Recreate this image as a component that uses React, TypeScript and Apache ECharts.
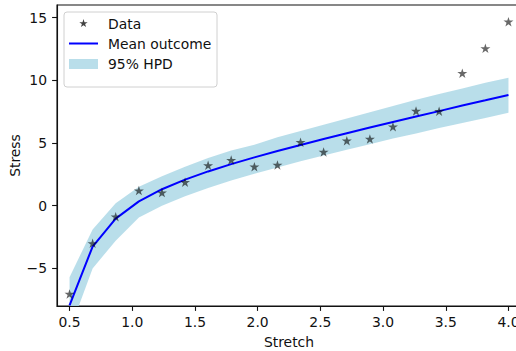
import React, { useEffect, useRef } from "react";
import * as echarts from "echarts";

const stretch = [0.5, 0.684, 0.868, 1.053, 1.237, 1.421, 1.605, 1.789, 1.974, 2.158, 2.342, 2.526, 2.711, 2.895, 3.079, 3.263, 3.447, 3.632, 3.816, 4.0];
const observedStress = [-7.04, -3.0, -0.88, 1.2, 1.04, 1.87, 3.22, 3.64, 3.11, 3.25, 5.06, 4.28, 5.18, 5.32, 6.3, 7.55, 7.53, 10.56, 12.55, 14.67];
const meanOutcome = [-7.95, -3.26, -1.03, 0.34, 1.31, 2.08, 2.73, 3.31, 3.85, 4.36, 4.84, 5.31, 5.78, 6.23, 6.67, 7.11, 7.54, 7.98, 8.4, 8.83];
const hpdUpper = [-5.7, -1.9, 0.2, 1.5, 2.35, 3.1, 3.8, 4.4, 4.85, 5.45, 5.95, 6.45, 6.95, 7.45, 7.95, 8.45, 8.9, 9.35, 9.8, 10.2];
const hpdLower = [-10.0, -5.0, -2.8, -0.95, 0.0, 0.75, 1.4, 2.0, 2.55, 3.05, 3.55, 4.0, 4.45, 4.9, 5.35, 5.75, 6.2, 6.6, 7.0, 7.4];
const xTicks = [0.5, 1.0, 1.5, 2.0, 2.5, 3.0, 3.5, 4.0];
const yTicks = [-5, 0, 5, 10, 15];

const FONT = "DejaVu Sans";
const FS = 13.9;
const BAND = "#add8e6";
const STAR = "path://M0,-10L2.245,-3.09L9.51,-3.09L3.633,1.18L5.88,8.09L0,3.82L-5.88,8.09L-3.633,1.18L-9.51,-3.09L-2.245,-3.09Z";

function starPoints(cx: number, cy: number, r: number) {
  const pts: number[][] = [];
  for (let i = 0; i < 10; i++) {
    const rr = i % 2 === 0 ? r : r * 0.382;
    const a = -Math.PI / 2 + (i * Math.PI) / 5;
    pts.push([cx + rr * Math.cos(a), cy + rr * Math.sin(a)]);
  }
  return pts;
}

export default function App() {
  const ref = useRef<HTMLDivElement>(null);
  useEffect(() => {
    if (!ref.current) return;
    const chart = echarts.init(ref.current, null, { renderer: "svg" });
    const axisText = { fontFamily: FONT, fontSize: FS, color: "#111" };
    chart.setOption({
      animation: false,
      backgroundColor: "#fff",
      grid: {
        left: 57,
        right: -5,
        top: 5,
        bottom: 45,
        containLabel: false,
        outerBoundsMode: "none",
        show: true,
        borderColor: "#111",
        borderWidth: 1.1,
      },
      xAxis: {
        type: "value",
        min: 0.4,
        max: 4.1,
        name: "Stretch",
        nameLocation: "middle",
        nameGap: 29,
        nameMoveOverlap: false,
        nameTextStyle: axisText,
        axisLine: { show: true, onZero: false, lineStyle: { color: "#111", width: 1.1 } },
        axisTick: { show: true, customValues: xTicks, length: 4.9, lineStyle: { color: "#111", width: 1.1 } },
        axisLabel: { customValues: xTicks, margin: 9, formatter: (v: number) => v.toFixed(1), ...axisText },
        splitLine: { show: false },
      },
      yAxis: {
        type: "value",
        min: -8,
        max: 16,
        name: "Stress",
        nameLocation: "middle",
        nameGap: 35,
        nameMoveOverlap: false,
        nameTextStyle: axisText,
        axisLine: { show: true, onZero: false, lineStyle: { color: "#111", width: 1.1 } },
        axisTick: { show: true, customValues: yTicks, length: 4.9, lineStyle: { color: "#111", width: 1.1 } },
        axisLabel: { customValues: yTicks, margin: 10, formatter: (v: number) => String(v).replace("-", "\u2212"), ...axisText },
        splitLine: { show: false },
      },
      series: [
        {
          type: "custom",
          name: "95% HPD",
          z: 1,
          data: stretch.map((x, i) => [x, hpdLower[i], hpdUpper[i]]),
          encode: { x: 0, y: [1, 2] },
          renderItem: (params: any, api: any) => {
            if (params.dataIndex !== 0) return null;
            const cs = params.coordSys;
            const pts: number[][] = [];
            for (let i = 0; i < stretch.length; i++) pts.push(api.coord([stretch[i], hpdUpper[i]]));
            for (let i = stretch.length - 1; i >= 0; i--) pts.push(api.coord([stretch[i], hpdLower[i]]));
            return {
              type: "group",
              clipPath: { type: "rect", shape: { x: cs.x, y: cs.y, width: cs.width, height: cs.height } },
              children: [
                {
                  type: "polygon",
                  shape: { points: pts },
                  style: { fill: BAND, opacity: 0.85 },
                },
              ],
            };
          },
        },
        {
          type: "line",
          name: "Mean outcome",
          z: 2,
          data: stretch.map((x, i) => [x, meanOutcome[i]]),
          showSymbol: false,
          symbol: "none",
          lineStyle: { color: "#0000ff", width: 2 },
          clip: true,
        },
        {
          type: "scatter",
          name: "Data",
          z: 3,
          data: stretch.map((x, i) => [x, observedStress[i]]),
          symbol: STAR,
          symbolSize: [10, 9.5],
          itemStyle: { color: "rgba(0,0,0,0.74)" },
        },
      ],
      graphic: [
        {
          type: "group",
          z: 100,
          children: [
            { type: "rect", shape: { x: 64, y: 12, width: 153, height: 75, r: 3 }, style: { fill: "rgba(255,255,255,0.85)", stroke: "#d0d0d0", lineWidth: 1 } },
            { type: "polygon", shape: { points: starPoints(83.5, 23.5, 4.4) }, style: { fill: "rgba(0,0,0,0.74)" } },
            { type: "line", shape: { x1: 69, y1: 43.5, x2: 98, y2: 43.5 }, style: { stroke: "#0000ff", lineWidth: 2 } },
            { type: "rect", shape: { x: 69, y: 59, width: 29, height: 10 }, style: { fill: BAND, opacity: 0.85 } },
            { type: "text", x: 108, y: 23.5, style: { text: "Data", fontFamily: FONT, fontSize: FS, fill: "#111", verticalAlign: "middle" } },
            { type: "text", x: 108, y: 43.5, style: { text: "Mean outcome", fontFamily: FONT, fontSize: FS, fill: "#111", verticalAlign: "middle" } },
            { type: "text", x: 108, y: 64, style: { text: "95% HPD", fontFamily: FONT, fontSize: FS, fill: "#111", verticalAlign: "middle" } },
          ],
        },
      ],
    });
    return () => chart.dispose();
  }, []);
  return <div ref={ref} style={{ position: "fixed", left: 0, top: 0, width: 516, height: 351 }} />;
}
